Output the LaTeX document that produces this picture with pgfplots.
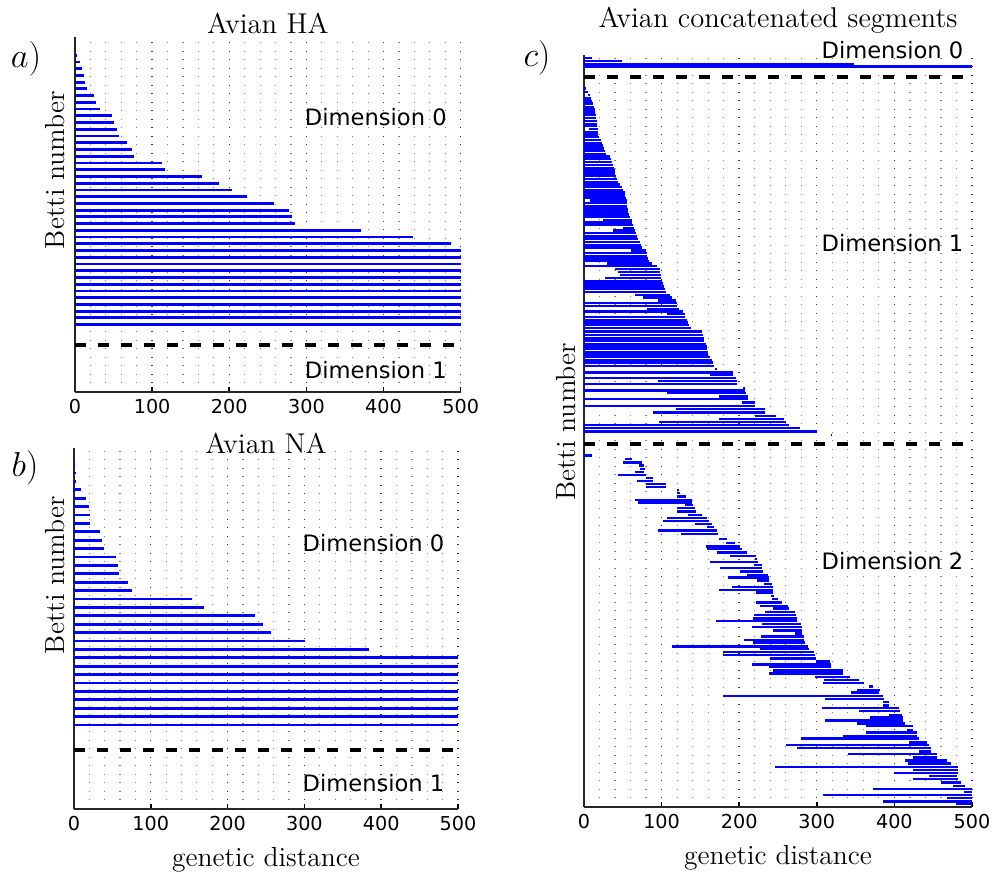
\documentclass[border=0pt]{standalone}
\usepackage{fontspec}
\usepackage{pgfplots}
\usepackage{pgfplotstable}
\pgfplotsset{compat=1.18}
\newfontfamily\dejavu{DejaVu Sans}
\definecolor{barblue}{RGB}{0,0,255}

% persistence barcodes: one row per bar, y = row position, b = birth, d = death
\pgfplotstableread{
y b d
51 0 1.7
50 0 2.6
49 0 6.5
48 0 9
47 0 11.7
46 0 13
45 0 15
44 0 25
43 0 27
42 0 32.5
41 0 47.6
40 0 50
39 0 54
38 0 57
37 0 68
36 0 73.6
35 0 76.6
34 0 113
33 0 117
32 0 165
31 0 186.6
30 0 204
29 0 223
28 0 257.5
27 0 278
26 0 281
25 0 285
24 0 370.5
23 0 437.7
22 0 488
21 0 500
20 0 500
19 0 500
18 0 500
17 0 500
16 0 500
15 0 500
14 0 500
13 0 500
12 0 500
11 0 500
10 0 500
}\haBars

\pgfplotstableread{
y b d
41 0 1.7
40 0 3
39 0 2.2
38 0 8.7
37 0 15.6
36 0 19.5
35 0 20.4
34 0 20.4
33 0 34.3
32 0 36.5
31 0 38.6
30 0 55
29 0 56.9
28 0 58.6
27 0 69.9
26 0 76
25 0 153
24 0 169
23 0 235.7
22 0 246.5
21 0 256
20 0 301
19 0 383.6
18 0 500
17 0 500
16 0 500
15 0 500
14 0 500
13 0 500
12 0 500
11 0 500
10 0 500
}\naBars

\pgfplotstableread{
y b d
748.7 0 10
746 0 48.6
742.7 0 348
740.3 0 500
}\catZero

\pgfplotstableread{
y b d
718.3 0 3
715 0 4.7
711.7 5.6 7.8
708.3 0 9
705.7 0 10.3
703.3 0 11.2
700 0 13.3
697.3 0 14.2
694.3 0 14.2
691.7 0 15
689 0 15.5
685.7 0 16.3
683 0 16.3
680.7 0 16.3
677.7 6.9 17.6
675 0 17.6
672.3 0 18.5
669.7 0 19
666.7 0 21.9
664 0 23.2
661.3 0 24
658.3 0 26.2
655.7 0 27.5
653 0 28.4
650.3 0 33
647.7 0 35
645 0 36
641.7 0 37.8
639 0 39
636.3 0 40
633.3 0 40.4
630.7 0 41.2
628 0 42
625 0 43.4
622.3 0 46.8
619.7 0 48.6
617 0 50.7
614.3 0 52.8
611.3 0 52.8
608.7 0 54
606.3 7.7 55.8
603.7 0 55.8
600.3 0 55.8
597.7 0 57
595.3 0 57
592.3 0 58.4
589.7 0 59.3
587 25 61.4
584.3 0 61.4
582 0 63.6
578.7 49.9 64.4
576.3 37 65.7
573.7 0 67
570.3 0 67.9
567.7 0 70
565 0 72.2
562 0 73
559.3 0 74.4
556.3 60 80
553.7 0 80.8
551 0 81.7
548.3 0 83
546 0 84.3
543.3 29.2 87.3
540.7 0 94.6
537.7 40 98
534.7 44.3 98
531.7 46.4 98.8
528.7 27 98.8
526 0 100
523.3 0 101.4
520.3 0 103
517.7 0 104.4
514.7 0 105.7
512 65.7 111
509.3 76.6 113
506.3 96 118.6
503.7 0 119.5
501 0 120.3
498 80.8 123
495.3 0 127.3
492.7 106.6 130
489.7 0 130
487 0 132.3
484.3 0 134.4
481.7 0 135.7
478.7 0 137.5
475.3 0 151.7
472 0 153.8
468.7 0 155
466.3 0 155
463 0 157.3
460.3 0 158.1
457.7 0 159
455 0 160.3
452.3 0 160.3
449.7 0 162.4
447 0 164.6
444.3 0 165.8
441 0 167.5
437.7 168.9 171
434.3 0 191.6
431.7 162.4 192.5
429 0 196
425.7 95.8 196.8
423 0 196.8
419 205.4 207.6
416.3 0 207.6
413.7 107.5 208.8
410.3 174.5 211
407.7 0 211
404.3 203.3 220.6
401 0 220.6
397.7 118.6 233.4
394.3 88.6 233.4
391 220.6 247.8
387.7 174.5 257.3
385 97 260.7
382 0 263.7
378.7 0 278.8
375.3 0 300.3
372 318 320
}\catOne

\pgfplotstableread{
y b d
351.3 0 10
347.7 52.8 61.4
344.3 49.9 74.4
341.3 71.3 77.3
338 72.2 78.5
335 65.7 77.3
332 43.4 80
328.7 80 88.6
325.7 68 89.4
322.7 80 105.3
319.7 80 105.3
317 120.3 122.9
313.7 119.5 123.8
310.3 120.3 131.4
307 65.7 138.7
304.3 70 138.7
301.7 130 140.9
298.7 119.5 143
295.3 119.5 144.4
292 134.4 151.7
289 106.6 158.9
286 101.4 161.5
283 143 164.6
279.7 158.9 167
276.3 95.8 171
273 124.6 173.2
267.7 174.5 184
263.7 183 194.6
260.3 157.2 201
257.7 158 203.2
254.3 171 209.7
251 188 221.7
248 220.5 223.4
245 162.4 224.7
242 218.6 229
238.7 175.3 229
235.3 201 230.6
232 209.7 237.6
229.3 186 238.8
226.3 222.6 238.8
223 232 241.9
220 190.3 243.2
217 174.5 243.2
214.3 221.7 244
211 240.5 244.9
207.7 241.9 250.5
204.3 221.7 254.8
201 226.8 263.4
198.3 244 264.7
195 233.5 272
191.7 219 273.3
188.3 218.3 274.2
186 169.7 275
183 229 279.2
179.7 216 280.5
176.3 244 280.5
173.3 272 280.5
170.3 227.7 283.7
167 206 283.7
164.3 218.3 285
160.3 112.9 289.3
157.7 226.8 290.6
155 179.5 296.6
151.7 179.5 297.9
148.3 239.8 299.2
145.3 299.2 316.4
142.3 216 318.1
139.7 238.8 318.1
136.3 244 334.4
133.3 238.8 334.4
129.7 297.8 342.2
127 309.4 353.9
123.7 308.5 360.3
120.3 367.6 372.7
117 352 381.3
114.3 344.7 380.5
111 179.5 384.8
108 310.7 386.4
104.7 385.6 393.3
101.3 385.6 393.3
98.7 306.5 405.3
96 353.9 406.7
92 393.3 409.2
89.3 368.5 410.5
86.3 310.7 411.4
83.3 352 413.5
80.7 364 423.4
77 416.5 424.2
74.3 363.2 428.5
71 333.3 429.4
68.3 279.2 431.9
64.3 419 442.3
62 260 444.8
58.7 274.6 446.6
55.3 432 446.6
52.7 339.6 454.3
49.3 423.4 455.2
46.3 413.5 467.6
43.3 417.8 473.2
39.7 246 481.8
37 423.4 481.8
33.7 399.4 481.8
31 444.8 480.9
27.7 423.4 481.8
24.3 460.7 485.2
21 475.7 490.8
18 372.7 500
15 489.5 500
11.7 308.5 500
8.7 467.2 500
5.3 385.6 500
2.7 479.2 500
}\catTwo

\pgfplotsset{
  barcode/.style={
    scale only axis, anchor=south west,
    xmin=0, xmax=500, ymin=0,
    axis lines=left, axis line style={-, black!85, line width=1pt},
    xtick={0,100,200,300,400,500}, minor x tick num=4, ytick=\empty,
    tick align=inside, major tick length=2.5pt, minor tick length=0pt,
    tick style={black, line width=0.8pt},
    xmajorgrids, xminorgrids,
    major grid style={black!80, line width=0.7pt, dash pattern=on 0.7pt off 3.55pt},
    minor grid style={black!50, line width=0.6pt, dash pattern=on 0.6pt off 3.65pt},
    /pgf/number format/assume math mode=true,
    xticklabel style={font=\dejavu\fontsize{9.6}{11}\selectfont},
    title style={font=\fontsize{14.3}{16}\selectfont, anchor=base, at={(axis description cs:0.5,1)}},
    label style={font=\fontsize{13.8}{16}\selectfont},
    clip=false,
  },
  barcode bars/.style={draw=none, mark=none,
    error bars/.cd, x dir=plus, x explicit, error mark=none,
    error bar style={draw=barblue, line width=#1}},
  separator/.style={black, line width=2pt, dash pattern=on 5.5pt off 6pt},
}
\tikzset{dimlabel/.style={font=\dejavu\fontsize{11.3}{13}\selectfont}}

\begin{document}
\begin{tikzpicture}
\path[use as bounding box] (0,0) rectangle (496.5pt,436pt);

% a) Avian HA
\begin{axis}[barcode, at={(37.5pt,240pt)}, width=192.85pt, height=177.5pt,
  ymax=52.7, title={Avian HA}, title style={yshift=-4.5pt},
  ylabel={Betti number}, ylabel style={at={(axis description cs:-0.052,0.625)}, anchor=center}]
\addplot[barcode bars=1.4pt] table[x=b, y=y, x error expr=\thisrow{d}-\thisrow{b}] {\haBars};
\addplot[separator] coordinates {(0,7) (500,7)};
\node[dimlabel] at (axis cs:390,40.8) {Dimension 0};
\node[dimlabel] at (axis cs:390,3.3) {Dimension 1};
\end{axis}

% b) Avian NA
\begin{axis}[barcode, at={(37pt,31.5pt)}, width=192pt, height=180.5pt,
  ymax=42.98, title={Avian NA}, title style={yshift=-9pt},
  ylabel={Betti number}, ylabel style={at={(axis description cs:-0.049,0.648)}, anchor=center},
  xlabel={genetic distance}, xlabel style={at={(axis description cs:0.5,0)}, anchor=center, yshift=-25.5pt}]
\addplot[barcode bars=1.4pt] table[x=b, y=y, x error expr=\thisrow{d}-\thisrow{b}] {\naBars};
\addplot[separator] coordinates {(0,7.02) (500,7.02)};
\node[dimlabel] at (axis cs:390,31.7) {Dimension 0};
\node[dimlabel] at (axis cs:390,3.06) {Dimension 1};
\end{axis}

% c) Avian concatenated segments
\begin{axis}[barcode, at={(292pt,32.5pt)}, width=194pt, height=376pt,
  ymax=752, title={Avian concatenated segments}, title style={yshift=7.5pt},
  ylabel={Betti number}, ylabel style={at={(axis description cs:-0.046,0.512)}, anchor=center},
  xlabel={genetic distance}, xlabel style={at={(axis description cs:0.5,0)}, anchor=center, yshift=-25.5pt}]
\addplot[barcode bars=1.2pt] table[x=b, y=y, x error expr=\thisrow{d}-\thisrow{b}] {\catZero};
\addplot[barcode bars=1.2pt] table[x=b, y=y, x error expr=\thisrow{d}-\thisrow{b}] {\catOne};
\addplot[barcode bars=1.2pt] table[x=b, y=y, x error expr=\thisrow{d}-\thisrow{b}] {\catTwo};
\addplot[separator] coordinates {(0,730.3) (500,730.3)};
\addplot[separator] coordinates {(0,363) (500,363)};
\node[dimlabel] at (axis cs:397.5,757) {Dimension 0};
\node[dimlabel] at (axis cs:397.5,564) {Dimension 1};
\node[dimlabel] at (axis cs:397.5,246) {Dimension 2};
\end{axis}

\node[font=\fontsize{17.28}{20}\selectfont] at (13pt,406.5pt) {$a)$};
\node[font=\fontsize{17.28}{20}\selectfont] at (12.5pt,202pt) {$b)$};
\node[font=\fontsize{17.28}{20}\selectfont] at (268.5pt,407pt) {$c)$};
\end{tikzpicture}
\end{document}
